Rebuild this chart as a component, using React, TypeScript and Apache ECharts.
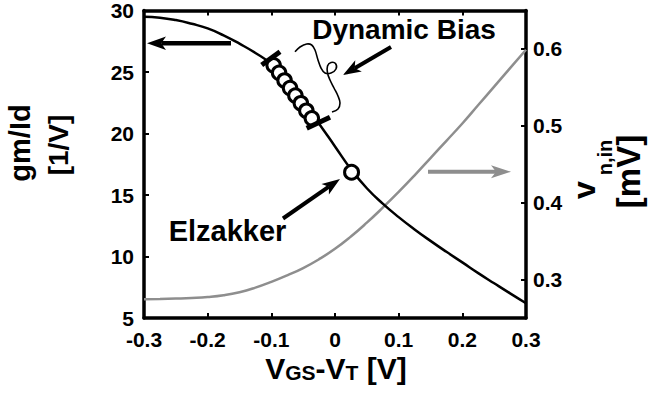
import React, { useEffect, useRef } from 'react';
import * as echarts from 'echarts';

// ---- data ----
const vgsVt = [-0.3, -0.275, -0.25, -0.225, -0.2, -0.175, -0.15, -0.125, -0.1, -0.075, -0.05, -0.025, 0, 0.025, 0.05, 0.075, 0.1, 0.125, 0.15, 0.175, 0.2, 0.225, 0.25, 0.275, 0.3];
const gmId = [29.5, 29.42, 29.22, 28.92, 28.55, 27.98, 27.3, 26.55, 25.65, 24.3, 22.6, 20.8, 18.95, 17.1, 15.55, 14.3, 13.2, 12.2, 11.27, 10.38, 9.52, 8.65, 7.82, 7.0, 6.2];
const vnIn = [0.2745, 0.2748, 0.2753, 0.276, 0.2772, 0.2795, 0.2835, 0.2895, 0.297, 0.3055, 0.315, 0.3265, 0.34, 0.356, 0.374, 0.3935, 0.414, 0.4355, 0.458, 0.4805, 0.503, 0.527, 0.551, 0.575, 0.599];
const dynBiasX = [-0.0964, -0.0878, -0.0792, -0.0706, -0.0622, -0.0536, -0.045, -0.0364];
const dynBiasY = [25.54, 24.93, 24.31, 23.69, 23.08, 22.46, 21.85, 21.23];
const elzakkerPt = [0.026, 16.85];
const rightTicks = [0.3, 0.4, 0.5, 0.6];

const FONT = '"Liberation Sans", Arial, Helvetica, sans-serif';
const GRAY = '#8e8e8e';

function arrow(x1: number, y1: number, x2: number, y2: number, color: string, lw: number, hl: number, hw: number) {
  const dx = x2 - x1, dy = y2 - y1;
  const L = Math.hypot(dx, dy);
  const ux = dx / L, uy = dy / L;
  const px = -uy, py = ux;
  const bx = x2 - ux * hl, by = y2 - uy * hl;
  const nx = x2 - ux * hl * 0.75, ny = y2 - uy * hl * 0.75;
  return [
    { type: 'line', shape: { x1, y1, x2: nx, y2: ny }, style: { stroke: color, lineWidth: lw } },
    {
      type: 'polygon',
      shape: { points: [[x2, y2], [bx + px * hw, by + py * hw], [nx, ny], [bx - px * hw, by - py * hw]] },
      style: { fill: color },
    },
  ];
}

function measure(text: string, size: number) {
  const c = document.createElement('canvas').getContext('2d');
  if (!c) return text.length * size * 0.6;
  c.font = `bold ${size}px ${FONT}`;
  return c.measureText(text).width;
}

function central(baseline: number, size: number) {
  return baseline - 0.3465 * size;
}

export default function App() {
  const ref = useRef<HTMLDivElement>(null);
  useEffect(() => {
    document.body.style.margin = '0';
    if (!ref.current) return;
    const chart = echarts.init(ref.current, null, { renderer: 'svg' });

    const axisLine = { show: true, onZero: false, lineStyle: { color: '#000', width: 3.5 } };
    const axisTick = { show: true, inside: true, length: 5, lineStyle: { color: '#000', width: 2 } };
    const label = { color: '#000', fontSize: 21, fontWeight: 'bold' as const, fontFamily: FONT };

    // x-axis title pieces
    const pieces: [string, number, number][] = [['V', 30, 0], ['GS', 21, 1], ['-V', 30, 0], ['T', 21, 1], [' [V]', 30, 0]];
    const widths = pieces.map(p => measure(p[0], p[1]));
    const total = widths.reduce((a, b) => a + b, 0);
    let cx = 336 - total / 2;
    const xTitle: any[] = [];
    pieces.forEach((p, i) => {
      xTitle.push({
        type: 'text', x: cx, y: central(378.5 + p[2], p[1]),
        style: { text: p[0], fill: '#000', font: `bold ${p[1]}px ${FONT}`, textAlign: 'left', textVerticalAlign: 'middle' },
      });
      cx += widths[i];
    });

    const rotText = (text: string, x: number, y: number, size: number) => ({
      type: 'text', x, y, rotation: Math.PI / 2,
      style: { text, x: 0, y: 0, fill: '#000', font: `bold ${size}px ${FONT}`, textAlign: 'center', textVerticalAlign: 'middle' },
    });

    const brace = [[295, 51.7], [300, 47], [306.7, 44], [311.7, 45], [315, 50], [318, 60], [321, 68], [325, 73], [331, 73], [336, 69], [335.5, 63.5], [331, 62.5], [327.5, 66], [327.5, 73], [330, 80], [334, 88], [338, 96], [340, 103], [338, 109], [332, 112]];

    const graphic: any[] = [
      ...arrow(231, 43.3, 147, 43.3, '#000', 4.5, 19, 6.8),
      ...arrow(428, 171.7, 511, 171.7, GRAY, 4, 20, 6.5),
      ...arrow(391, 47, 343, 75, '#000', 4, 18, 6.5),
      ...arrow(283, 218.5, 340, 179, '#000', 4, 18, 6.5),
      { type: 'line', shape: { x1: 261.7, y1: 65, x2: 280, y2: 51.7 }, style: { stroke: '#000', lineWidth: 5 }, z: 10 },
      { type: 'line', shape: { x1: 306.7, y1: 128.3, x2: 330, y2: 117.3 }, style: { stroke: '#000', lineWidth: 5 }, z: 10 },
      { type: 'polyline', shape: { points: brace, smooth: 0.35 }, style: { stroke: '#000', lineWidth: 1.6, fill: null } },
      { type: 'text', x: 404, y: 29, style: { text: 'Dynamic Bias', fill: '#000', font: `bold 28px ${FONT}`, textAlign: 'center', textVerticalAlign: 'middle' } },
      { type: 'text', x: 227.5, y: 231, style: { text: 'Elzakker', fill: '#000', font: `bold 29px ${FONT}`, textAlign: 'center', textVerticalAlign: 'middle' } },
      rotText('gm/Id', 20, 143, 29),
      rotText('[1/V]', 58.5, 145, 28),
      rotText('v', 584, 190, 32),
      rotText('n,in', 605, 157.5, 20),
      rotText('[mV]', 628, 171.5, 33),
      ...xTitle,
    ];

    chart.setOption({
      animation: false,
      grid: { left: 144, right: 123, top: 8, bottom: 76 },
      xAxis: [
        {
          type: 'value', min: -0.3, max: 0.3, interval: 0.1, position: 'bottom',
          axisLine, axisTick, splitLine: { show: false },
          axisLabel: { ...label, margin: 11, showMinLabel: true, showMaxLabel: true, formatter: (v: number) => String(Math.round(v * 10) / 10) },
        },
        {
          type: 'value', min: -0.3, max: 0.3, interval: 0.1, position: 'top',
          axisLine, axisTick, splitLine: { show: false }, axisLabel: { show: false },
        },
      ],
      yAxis: [
        {
          type: 'value', min: 5, max: 30, interval: 5, position: 'left',
          axisLine, axisTick, splitLine: { show: false },
          axisLabel: { ...label, margin: 10, showMinLabel: true, showMaxLabel: true },
        },
        {
          type: 'value', min: 0.25, max: 0.65, position: 'right',
          axisLine, splitLine: { show: false },
          axisTick: { ...axisTick, customValues: rightTicks },
          axisLabel: { ...label, margin: 7, customValues: rightTicks, formatter: (v: number) => v.toFixed(1) },
        },
      ],
      series: [
        {
          type: 'line', xAxisIndex: 0, yAxisIndex: 1, smooth: 0.5, showSymbol: false, silent: true,
          lineStyle: { color: GRAY, width: 2.5 },
          data: vgsVt.map((x, i) => [x, vnIn[i]]),
        },
        {
          type: 'line', xAxisIndex: 0, yAxisIndex: 0, smooth: 0.5, showSymbol: false, silent: true,
          lineStyle: { color: '#000', width: 2.5 },
          data: vgsVt.map((x, i) => [x, gmId[i]]),
        },
        {
          type: 'scatter', xAxisIndex: 0, yAxisIndex: 0, symbol: 'circle', symbolSize: 13.5, silent: true,
          itemStyle: { color: '#fff', borderColor: '#000', borderWidth: 3, opacity: 1 },
          data: dynBiasX.map((x, i) => [x, dynBiasY[i]]),
          z: 5,
        },
        {
          type: 'scatter', xAxisIndex: 0, yAxisIndex: 0, symbol: 'circle', symbolSize: 14, silent: true,
          itemStyle: { color: '#fff', borderColor: '#000', borderWidth: 3, opacity: 1 },
          data: [elzakkerPt],
          z: 5,
        },
      ],
      graphic,
    });
    return () => chart.dispose();
  }, []);
  return <div ref={ref} style={{ width: 649, height: 394 }} />;
}
